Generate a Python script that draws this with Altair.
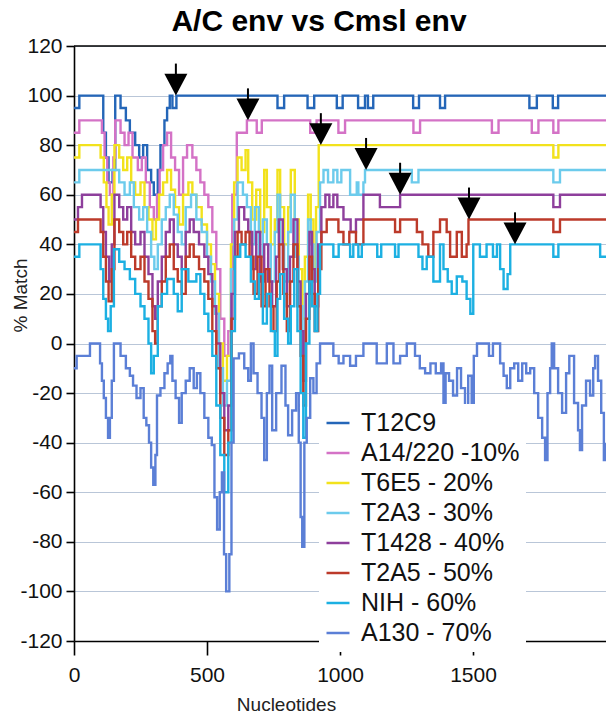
import altair as alt
import pandas as pd

# ---------------- data ----------------
series_names = ["T12C9", "A14/220 -10%", "T6E5 - 20%", "T2A3 - 30%",
                "T1428 - 40%", "T2A5 - 50%", "NIH - 60%", "A130 - 70%"]
series_colors = ["#2466b8", "#d472c6", "#f2e21c", "#6ccbec",
                 "#8e3f9c", "#bc3a2a", "#1cb0e2", "#5b7fd6"]

T12C9 = [(0, 95), (20, 100), (110, 85), (120, 75), (130, 65), (145, 70), (155, 100),
         (175, 95), (195, 90), (210, 85), (230, 80), (245, 75), (260, 80), (275, 70),
         (290, 65), (300, 60), (315, 70), (325, 80), (340, 90), (350, 95), (360, 100),
         (370, 95), (385, 100), (765, 95), (790, 100), (878, 95), (903, 100),
         (988, 95), (1010, 100), (1068, 95), (1094, 100), (1105, 95), (1125, 100),
         (1275, 95), (1297, 100), (1376, 95), (1395, 100), (1712, 95), (1740, 100),
         (1800, 95), (1820, 100), (2000, 100)]

A14_220 = [(0, 85), (20, 90), (105, 85), (115, 75), (125, 65), (135, 60), (148, 75),
           (155, 90), (175, 85), (190, 80), (205, 85), (220, 75), (240, 70), (255, 75),
           (270, 65), (285, 55), (300, 50), (312, 60), (322, 70), (335, 80), (350, 85),
           (365, 75), (380, 70), (395, 60), (410, 75), (425, 80), (445, 75), (460, 70),
           (475, 65), (490, 60), (505, 55), (520, 45), (535, 30), (550, 10), (565, -5),
           (580, 5), (595, 60), (612, 85), (650, 90), (687, 85), (706, 90), (888, 85),
           (912, 90), (994, 85), (1019, 90), (1276, 85), (1301, 90), (1571, 85),
           (1596, 90), (1721, 85), (1746, 90), (1802, 85), (1821, 90), (2000, 90)]

T6E5 = [(0, 75), (20, 80), (100, 75), (112, 65), (122, 55), (130, 48), (142, 60),
        (152, 80), (170, 75), (185, 70), (200, 75), (215, 65), (230, 60), (250, 65),
        (265, 55), (280, 50), (295, 42), (308, 50), (320, 60), (335, 65), (350, 70),
        (365, 62), (380, 55), (395, 48), (410, 60), (430, 65), (445, 60), (460, 55),
        (480, 48), (500, 40), (515, 32), (530, 20), (545, 0), (560, -15), (575, -5),
        (590, 40), (602, 65), (615, 75), (630, 70), (645, 78), (655, 65), (670, 50),
        (685, 62), (700, 45), (715, 70), (725, 55), (740, 40), (755, 50), (765, 70),
        (775, 55), (790, 40), (805, 55), (815, 70), (830, 50), (845, 30), (858, 10),
        (868, 35), (880, 60), (890, 50), (900, 30), (910, 55), (920, 80), (1802, 75),
        (1821, 80), (2000, 80)]

T2A3 = [(0, 65), (20, 70), (170, 65), (190, 60), (210, 65), (225, 55), (245, 50),
        (260, 55), (275, 45), (290, 35), (302, 30), (315, 40), (330, 50), (345, 55),
        (360, 60), (375, 52), (390, 45), (405, 40), (420, 55), (440, 60), (460, 50),
        (480, 45), (500, 35), (515, 25), (530, 12), (545, -10), (560, -25), (575, -15),
        (590, 30), (602, 50), (615, 65), (635, 60), (650, 55), (665, 40), (680, 55),
        (695, 35), (710, 50), (725, 40), (740, 25), (755, 45), (765, 60), (775, 40),
        (790, 25), (805, 45), (815, 60), (830, 35), (845, 15), (858, -5), (868, 25),
        (880, 50), (890, 40), (900, 25), (912, 45), (925, 65), (938, 70), (955, 65),
        (975, 70), (990, 65), (1005, 70), (1038, 60), (1063, 65), (1069, 60),
        (1088, 65), (1094, 70), (1270, 65), (1295, 70), (1802, 65), (1827, 70),
        (2000, 70)]

T1428 = [(0, 50), (15, 55), (30, 60), (100, 55), (110, 45), (120, 35), (132, 25),
         (142, 40), (152, 60), (170, 55), (185, 50), (200, 55), (215, 45), (230, 40),
         (250, 45), (265, 35), (280, 28), (295, 15), (305, 10), (315, 25), (330, 35),
         (345, 45), (360, 50), (375, 40), (390, 35), (405, 30), (420, 45), (435, 50),
         (450, 45), (470, 40), (490, 35), (505, 28), (520, 15), (535, 0), (550, -20),
         (565, -35), (580, -25), (592, 20), (605, 45), (620, 55), (640, 50), (655, 45),
         (670, 30), (685, 45), (700, 25), (715, 40), (730, 25), (745, 15), (760, 35),
         (770, 50), (785, 30), (800, 15), (812, 35), (825, 50), (840, 25), (852, 5),
         (862, -15), (872, 20), (885, 45), (895, 30), (905, 15), (918, 40), (930, 55),
         (945, 60), (960, 55), (975, 60), (990, 55), (1013, 50), (1040, 45),
         (1060, 50), (1088, 60), (1150, 55), (1200, 55), (1226, 60), (1802, 55),
         (1827, 60), (2000, 60)]

T2A5 = [(0, 45), (15, 50), (100, 45), (110, 35), (120, 25), (130, 17), (142, 30),
        (152, 50), (170, 45), (185, 40), (200, 45), (215, 35), (230, 30), (250, 35),
        (265, 25), (280, 18), (295, 5), (305, 0), (315, 15), (330, 25), (345, 35),
        (360, 40), (375, 30), (390, 25), (405, 20), (420, 35), (435, 40), (450, 35),
        (470, 30), (490, 25), (505, 18), (520, 5), (535, -10), (550, -30), (565, -45),
        (580, -35), (592, 10), (605, 35), (615, 45), (630, 40), (645, 45), (660, 35),
        (675, 20), (690, 35), (705, 15), (720, 30), (735, 15), (750, 5), (762, 25),
        (772, 40), (787, 20), (800, 5), (812, 25), (825, 40), (840, 15), (852, -5),
        (862, -25), (872, 10), (885, 35), (895, 20), (905, 5), (918, 30), (930, 45),
        (950, 50), (994, 45), (1013, 40), (1035, 45), (1060, 40), (1088, 50),
        (1207, 45), (1226, 50), (1289, 45), (1310, 40), (1332, 35), (1351, 45),
        (1376, 50), (1401, 45), (1414, 35), (1439, 45), (1458, 35), (1476, 40),
        (1483, 50), (1802, 45), (1827, 50), (2000, 50)]

NIH = [(0, 35), (20, 40), (100, 30), (110, 18), (120, 10), (128, 5), (138, 15),
       (150, 38), (170, 33), (190, 30), (210, 26), (230, 20), (250, 15), (265, 10),
       (280, 0), (290, -12), (300, -5), (315, 15), (330, 20), (350, 26), (375, 20),
       (390, 13), (405, 30), (430, 25), (460, 28), (475, 20), (490, 12), (505, 5),
       (520, -5), (535, -25), (550, -45), (565, -60), (580, -40), (592, 5), (605, 35),
       (625, 40), (645, 35), (665, 25), (680, 18), (695, 28), (710, 8), (725, 20),
       (740, 5), (755, -5), (765, 18), (775, 28), (790, 10), (805, 0), (815, 15),
       (828, 30), (840, 5), (852, -20), (862, -38), (872, 0), (885, 25), (895, 15),
       (905, 5), (915, 20), (925, 40), (975, 35), (995, 40), (1038, 35), (1050, 40),
       (1069, 35), (1082, 40), (1140, 35), (1155, 40), (1207, 35), (1220, 40),
       (1295, 35), (1310, 30), (1326, 35), (1351, 25), (1376, 40), (1389, 30),
       (1405, 25), (1420, 20), (1439, 27), (1460, 25), (1476, 18), (1490, 12),
       (1501, 40), (1526, 35), (1551, 40), (1575, 35), (1590, 40), (1602, 30),
       (1615, 22), (1630, 28), (1640, 40), (1802, 35), (1821, 40), (1978, 35),
       (2000, 35)]

A130 = [(0, -10), (10, -5), (60, 0), (98, -8), (105, -15), (112, -22), (120, -30),
        (128, -38), (135, -30), (142, -15), (150, 0), (175, -5), (195, -10), (210, -13),
        (222, -17), (235, -22), (250, -18), (262, -30), (272, -33), (282, -40),
        (290, -50), (298, -57), (306, -45), (312, -21), (325, -18), (340, -12),
        (352, -8), (362, -5), (370, -15), (382, -22), (395, -32), (405, -20),
        (420, -15), (435, -10), (450, -18), (462, -12), (475, -20), (490, -30),
        (505, -38), (518, -41), (528, -62), (538, -75), (548, -60), (556, -52),
        (564, -85), (572, -100), (584, -85), (592, -40), (600, -6), (620, -4),
        (640, -10), (655, -15), (665, 0), (675, -12), (690, -20), (705, -30),
        (715, -47), (725, -20), (735, -9), (745, -35), (760, -20), (780, -9),
        (795, -25), (805, -37), (820, -27), (835, -20), (845, -40), (852, -70),
        (858, -82), (866, -40), (875, -30), (888, -14), (900, -20), (912, -8),
        (925, 0), (975, -5), (995, -8), (1013, -5), (1038, -9), (1060, -5), (1088, 0),
        (1138, -8), (1176, 0), (1201, -8), (1226, -5), (1251, 0), (1282, -5),
        (1300, -10), (1320, -12), (1340, -8), (1360, -12), (1380, -8), (1389, -28),
        (1397, -12), (1410, -15), (1425, -21), (1440, -10), (1455, -18), (1470, -25),
        (1482, -13), (1495, -28), (1503, -5), (1515, 0), (1560, -5), (1575, 0),
        (1602, -8), (1615, -13), (1627, -18), (1640, -10), (1655, -8), (1670, -15),
        (1685, -8), (1700, -12), (1715, -10), (1730, -20), (1745, -30), (1760, -38),
        (1771, -47), (1780, -20), (1790, -10), (1796, 0), (1805, -10), (1820, -20),
        (1835, -28), (1850, -12), (1862, -5), (1880, -24), (1895, -35), (1902, -43),
        (1910, -25), (1925, -15), (1940, -21), (1952, -10), (1959, -5), (1970, -15),
        (1982, -28), (1992, -47), (2000, -40)]

arrow_x = [383, 654, 928, 1098, 1226, 1485, 1658]
arrow_level = [100, 90, 80, 70, 60, 50, 40]

y_ticks = [-120, -100, -80, -60, -40, -20, 0, 20, 40, 60, 80, 100, 120]
x_ticks = [0, 500, 1000, 1500]

# ---------------- build tables ----------------
all_series = [T12C9, A14_220, T6E5, T2A3, T1428, T2A5, NIH, A130]
rows = []
for name, pts in zip(series_names, all_series):
    for i, (x, y) in enumerate(pts):
        rows.append({"series": name, "nt": x, "match": y, "i": i})
df = pd.DataFrame(rows)
arrows = pd.DataFrame({"nt": arrow_x, "level": arrow_level})
border = pd.DataFrame({"top": [120]})

FONT = "Liberation Sans"
xscale = alt.Scale(domain=[0, 2000], nice=False, zero=False)
yscale = alt.Scale(domain=[-120, 120], nice=False)
plain = "'' + datum.value"

lines = alt.Chart(df).mark_line(interpolate="step-after", strokeWidth=2.4).encode(
    x=alt.X("nt:Q", scale=xscale,
            axis=alt.Axis(values=x_ticks, title="Nucleotides", grid=False,
                          labelExpr=plain,
                          titleX=212, titleY=69, titleBaseline="alphabetic",
                          tickSize=14, labelPadding=9)),
    y=alt.Y("match:Q", scale=yscale,
            axis=alt.Axis(values=y_ticks, title="% Match", grid=True,
                          labelExpr=plain,
                          titleX=-54, titleY=249, titleBaseline="middle",
                          tickSize=8, labelPadding=4)),
    color=alt.Color("series:N", sort=series_names,
                    scale=alt.Scale(domain=series_names, range=series_colors),
                    legend=alt.Legend(title=None, orient="none", legendX=245, legendY=358,
                                      symbolType="stroke", symbolSize=529,
                                      symbolStrokeWidth=2.5, labelFontSize=25,
                                      labelFont=FONT, labelColor="#111",
                                      rowPadding=4, padding=6, labelOffset=10,
                                      fillColor="white", labelLimit=400)),
    order=alt.Order("i:Q"),
    detail="series:N",
)

top_border = alt.Chart(border).mark_rule(color="black", strokeWidth=1.6).encode(
    y=alt.Y("top:Q", scale=yscale), x=alt.value(0), x2=alt.value(532)
)

stems = alt.Chart(arrows).mark_rule(color="black", strokeWidth=2,
                                    yOffset=-20, y2Offset=-32).encode(
    x=alt.X("nt:Q", scale=xscale), y=alt.Y("level:Q", scale=yscale), y2="level:Q"
)
heads = alt.Chart(arrows).mark_point(shape="M-1,-0.95L1,-0.95L0,0.95Z", size=529,
                                     filled=True, color="black", opacity=1,
                                     yOffset=-11).encode(
    x=alt.X("nt:Q", scale=xscale), y=alt.Y("level:Q", scale=yscale)
)

chart = alt.layer(lines, top_border, stems, heads).properties(
    width=532, height=595,
    autosize=alt.AutoSizeParams(type="none"),
    padding={"left": 74, "top": 46, "right": 0, "bottom": 72},
    title=alt.TitleParams("A/C env vs Cmsl env", fontSize=30, font=FONT,
                          fontWeight="bold", anchor="middle", dx=-21, dy=16,
                          color="black", offset=14),
).configure_view(stroke=None).configure_axis(
    labelFont=FONT, titleFont=FONT, labelFontSize=21, titleFontSize=19,
    labelColor="#111", titleColor="#222", titleFontWeight="normal",
    domainColor="black", domainWidth=1.6, tickColor="black", tickWidth=1.6,
    gridColor="#b9c6d8", gridWidth=1,
).configure_axisX(labelFlush=False)

chart.save("out.html", embed_options={"renderer": "svg", "actions": False})
